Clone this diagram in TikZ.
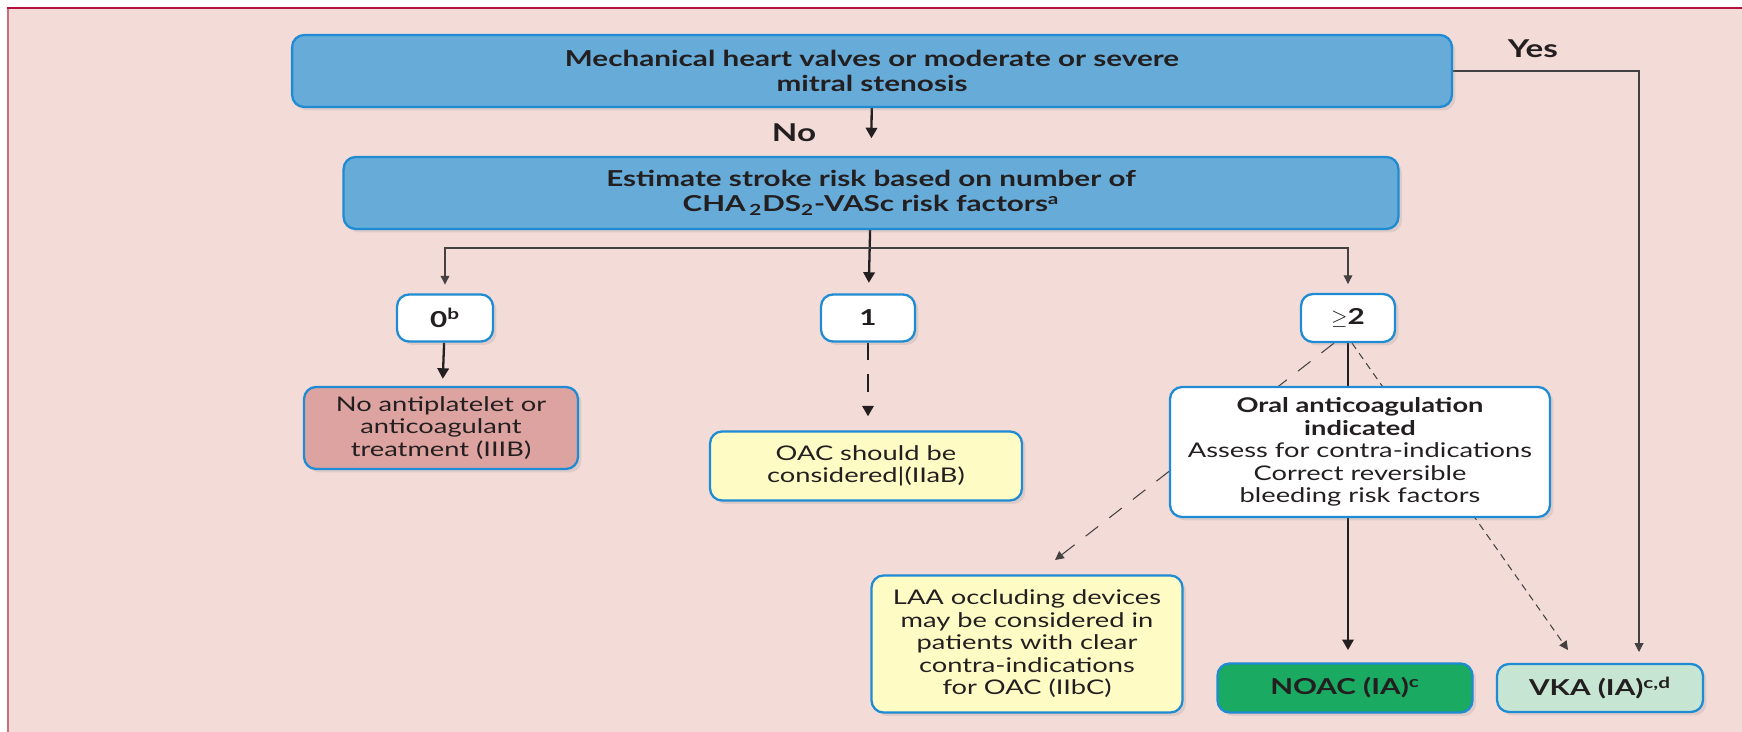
\documentclass[tikz,border=0pt]{standalone}
\usepackage{fontspec}
\setmainfont{Lato}[FakeStretch=1.35]
\usetikzlibrary{arrows.meta,shadows}
\definecolor{bgpink}{HTML}{F3DCD8}
\definecolor{framered}{HTML}{B3123D}
\definecolor{frameside}{HTML}{C9707F}
\definecolor{boxblue}{HTML}{1E8BD2}
\definecolor{headblue}{HTML}{67ACD9}
\definecolor{notreat}{HTML}{DDA3A0}
\definecolor{oacyellow}{HTML}{FFFBC5}
\definecolor{noacgreen}{HTML}{1BAA62}
\definecolor{vkagreen}{HTML}{C6E6D3}
\definecolor{txtgrey}{HTML}{231F20}
\newcommand{\hdfont}{\fontsize{12.5}{14.5}\selectfont\bfseries}
\newcommand{\bdfont}{\fontsize{11.5}{12.8}\selectfont}
\pgfdeclarelayer{back}
\pgfdeclarelayer{mid}
\pgfsetlayers{back,mid,main}

\tikzset{
  box/.style={draw=boxblue, line width=1.3pt, rounded corners=0.24cm, align=center,
    inner sep=2pt, text=txtgrey,
    drop shadow={opacity=0.18, shadow xshift=0.07cm, shadow yshift=-0.07cm}},
  headbox/.style={box, fill=headblue, font=\hdfont},
  countbox/.style={box, fill=white, font=\hdfont},
  notreatbox/.style={box, fill=notreat, font=\bdfont},
  yellowbox/.style={box, fill=oacyellow, font=\bdfont},
  oralbox/.style={box, fill=white, font=\bdfont},
  noacbox/.style={box, fill=noacgreen, font=\hdfont},
  vkabox/.style={box, fill=vkagreen, font=\hdfont},
  thickarrow/.style={line width=1.3pt, txtgrey, -{Triangle[length=6pt,width=6.5pt]}},
  thinarrow/.style={line width=0.6pt, txtgrey!85, -{Triangle[length=5pt,width=5pt]}},
  yesno/.style={font=\fontsize{14}{16}\selectfont\bfseries, text=txtgrey}
}

\begin{document}
\begin{tikzpicture}[x=0.02cm, y=-0.02cm]
\useasboundingbox (0,0) rectangle (1742,732);
% page background and frame
\begin{pgfonlayer}{back}
\fill[bgpink] (7,8) rectangle (1742,732);
\draw[frameside, line width=1.6pt] (8,732) -- (8,8);
\draw[framered, line width=0.8pt] (7,8) -- (1742,8);
\end{pgfonlayer}

% top row
\node[headbox, minimum width=23.2cm, minimum height=1.44cm] (mech) at (872,71)
  {Mechanical heart valves or moderate or severe\\ mitral stenosis};
\node[headbox, minimum width=21.1cm, minimum height=1.44cm] (est) at (871,193)
  {Estimate stroke risk based on number of\\ CHA\,\textsubscript{2}DS\textsubscript{2}-VASc risk factors\textsuperscript{a}};
\node[yesno] (nolabel) at (794,133) {No};
\node[yesno] (yeslabel) at (1533,49) {Yes};

% risk score boxes
\node[countbox, minimum width=1.92cm, minimum height=0.94cm] (zero) at (445,318) {0\textsuperscript{b}};
\node[countbox, minimum width=1.88cm, minimum height=0.94cm] (one) at (868,318) {1};
\node[countbox, minimum width=1.88cm, minimum height=0.96cm] (geq) at (1348,318) {$\geq$2};

% outcome boxes
\node[notreatbox, minimum width=5.48cm, minimum height=1.64cm] (notreat) at (441,428)
  {No antiplatelet or\\ anticoagulant\\ treatment (IIIB)};
\node[yellowbox, minimum width=6.24cm, minimum height=1.38cm] (oac) at (866,466)
  {OAC should be\\ considered|(IIaB)};
\node[oralbox, minimum width=7.6cm, minimum height=2.6cm] (oral) at (1360,452)
  {\textbf{Oral anticoagulation}\\ \textbf{indicated}\\ Assess for contra-indications\\ Correct reversible\\ bleeding risk factors};
\node[yellowbox, minimum width=6.22cm, minimum height=2.74cm] (laa) at (1027,644)
  {LAA occluding devices\\ may be considered in\\ patients with clear\\ contra-indications\\ for OAC (IIbC)};
\node[noacbox, minimum width=5.1cm, minimum height=0.98cm] (noac) at (1345,688) {NOAC (IA)\textsuperscript{c}};
\node[vkabox, minimum width=4.12cm, minimum height=0.96cm] (vka) at (1600,688) {VKA (IA)\textsuperscript{c,d}};

% connectors
\coordinate (split) at (871,248);
\coordinate (vkain) at (1639,652);
\coordinate (laain) at (1055,560);
\coordinate (vkadash) at (1568,650);
\begin{pgfonlayer}{mid}
\draw[thickarrow, shorten >=10pt] (mech) -- (est);
\draw[thickarrow, shorten >=6pt] (est) -- (one);
\draw[thinarrow, shorten >=5pt] (split) -| (zero);
\draw[thinarrow, shorten >=5pt] (split) -| (geq);
\draw[thickarrow, shorten >=4pt] (zero) -- (notreat);
\draw[thickarrow, dash pattern=on 10pt off 8pt, shorten >=8pt] (one) -- (one |- oac.north);
\draw[line width=1.3pt, txtgrey] (geq) -- (geq |- oral.north);
\draw[thickarrow, shorten >=7pt] (geq |- oral.south) -- (geq |- noac.north);
\draw[thinarrow, dash pattern=on 9pt off 8pt] ([xshift=-0.28cm]geq.south) -- (laain);
\draw[thinarrow, dash pattern=on 4pt off 3pt] ([xshift=0.08cm]geq.south) -- (vkadash);
\draw[thinarrow] (mech.east) -| (vkain);
\end{pgfonlayer}
\end{tikzpicture}
\end{document}
